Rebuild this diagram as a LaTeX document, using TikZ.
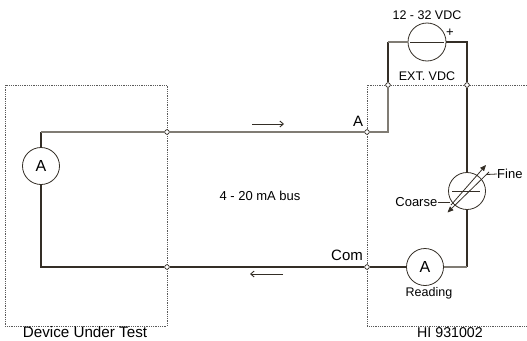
\documentclass[tikz,border=0pt]{standalone}
\usepackage{fontspec}
\setmainfont{Liberation Sans}
\usetikzlibrary{arrows.meta,calc}
\definecolor{wdark}{RGB}{52,46,38}
\definecolor{wgray}{RGB}{128,124,116}
\definecolor{dotc}{RGB}{90,90,90}
\tikzset{
  wire/.style={line width=1.1pt,wdark},
  gwire/.style={line width=1.1pt,wgray},
  meter/.style={circle,draw=wdark,line width=0.8pt,minimum size=37pt,inner sep=0pt,font=\fontsize{16}{18}\selectfont},
  junc/.style={circle,draw=wdark,fill=white,line width=0.6pt,minimum size=4.5pt,inner sep=0pt},
  boxline/.style={dotc,line width=0.8pt,densely dotted},
  lbl/.style={font=\fontsize{13}{15}\selectfont,inner sep=0pt},
  slbl/.style={font=\fontsize{12.5}{14}\selectfont,inner sep=0pt},
  big/.style={font=\fontsize{15}{17}\selectfont,inner sep=0pt},
  curarrow/.style={line width=0.9pt,wdark,-{Straight Barb[length=3.5pt,width=6pt]}},
  potarrow/.style={line width=0.8pt,wdark,-{Triangle[length=6pt,width=5pt]}}
}
\begin{document}
\begin{tikzpicture}[x=1pt,y=-1pt]
\useasboundingbox (0,0) rectangle (527,340);
% boxes
\draw[boxline] (5,85) rectangle (167,326);
\draw[boxline] (527,85) -- (367,85) -- (367,326) -- (527,326);
% components
\node[meter] (amL) at (41,166) {A};
\node[meter] (amR) at (425,267) {A};
\node[meter,minimum size=38pt] (src) at (427,42) {};
\node[meter,minimum size=37pt] (pot) at (467,191) {};
% junctions
\node[junc] (j1) at (167,132) {};
\node[junc] (j2) at (167,267) {};
\node[junc] (j3) at (367,132) {};
\node[junc] (j4) at (367,267) {};
\node[junc] (j5) at (388,85) {};
\node[junc] (j6) at (467,85) {};
% wires
\draw[wire] (amL.north) -- (41,132);
\draw[gwire] (41,132) -- (j1);
\draw[gwire] (j1) -- (j3);
\draw[gwire] (j3) -| (j5);
\draw[wire] (j5) -- (388,42);
\draw[gwire] (388,42) -- (src.west);
\draw[wire] (src.east) -| (j6);
\draw[wire] (j6) -- (pot.north);
\draw[wire] (pot.south) -- (467,267);
\draw[gwire] (467,267) -- (amR.east);
\draw[wire] (amR.west) -- (j4);
\draw[wire] (j4) -- (j2);
\draw[wire] (j2) -| (amL.south);
% redraw junctions on top
\node[junc] at (j1) {};
\node[junc] at (j2) {};
\node[junc] at (j3) {};
\node[junc] at (j4) {};
\node[junc] at (j5) {};
\node[junc] at (j6) {};
% source symbol
\draw[wdark,line width=0.8pt] ([xshift=-17pt]src.center) -- ([xshift=17pt]src.center);
% pot symbol
\draw[wdark,line width=0.8pt] (452,191.5) -- (480,191.5);
\coordinate (fa) at (451,205);
\coordinate (fb) at (486,165);
\coordinate (ca) at (489,172);
\coordinate (cb) at (447.5,212.5);
\draw[potarrow] (fa) -- (fb);
\draw[potarrow] (ca) -- (cb);
\node[lbl,anchor=west] (fine) at (497,174) {Fine};
\node[lbl,anchor=east] (coarse) at (437.5,202) {Coarse};
\draw[wdark,line width=0.8pt] (487,174.5) -- (fine.west);
\draw[wdark,line width=0.8pt] (coarse.east) -- (450,202);
% current arrows
\coordinate (ta1) at (252,124);
\coordinate (ta2) at (284,124);
\coordinate (ba1) at (283,274);
\coordinate (ba2) at (250,274);
\draw[curarrow] (ta1) -- (ta2);
\draw[curarrow] (ba1) -- (ba2);
% labels
\node[slbl] (vdc) at (427,15) {12 - 32 VDC};
\node[lbl] (plus) at (450,33) {+};
\node[slbl] (ext) at (427,76) {EXT. VDC};
\node[big] (lA) at (358,121) {A};
\node[big] (lCom) at (347,255) {Com};
\node[lbl] (bus) at (260,196) {4 - 20 mA bus};
\node[slbl] (rd) at (429,293) {Reading};
\node[font=\fontsize{14.2}{16}\selectfont,inner sep=0pt] (hi) at (450,332.5) {HI 931002};
\node[font=\fontsize{15.2}{17}\selectfont,inner sep=0pt] (dut) at (85,332.5) {Device Under Test};
\end{tikzpicture}
\end{document}
